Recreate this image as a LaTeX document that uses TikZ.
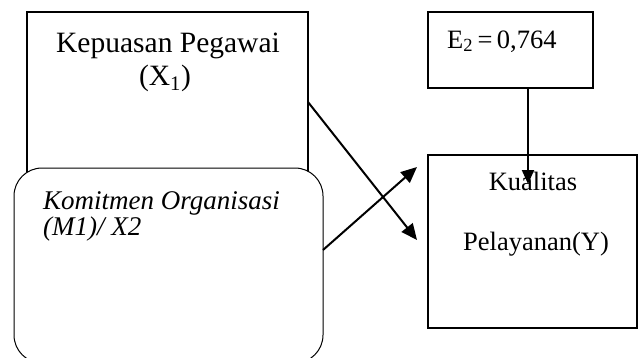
\documentclass[tikz,border=0pt]{standalone}
\usepackage{fontspec}
\setmainfont{Liberation Serif}
\usetikzlibrary{arrows.meta}
\tikzset{
  boxthick/.style={draw=black, line width=2pt, rectangle, inner sep=0pt},
  roundbox/.style={draw=black, line width=1pt, fill=white, rounded corners=28pt, inner sep=0pt},
  txt/.style={anchor=base, inner sep=0pt, font=\fontsize{26.5}{30}\selectfont},
  conn/.style={line width=2pt, -{Triangle[length=16pt,width=14pt]}}
}
\begin{document}
\begin{tikzpicture}[x=1pt,y=-1pt]
\useasboundingbox (0,0) rectangle (638,357);
\clip (0,0) rectangle (638,357);
% boxes
\node[boxthick, minimum width=281pt, minimum height=238pt] (x1) at (167.5,131) {};
\draw[roundbox] (14,168) rectangle (323,363);
\node[boxthick, minimum width=165pt, minimum height=76pt] (e2) at (510.5,50) {};
\node[boxthick, minimum width=209pt, minimum height=173pt] (y) at (532.5,241.5) {};
% texts
\node[txt, font=\fontsize{29.5}{34}\selectfont] (t1) at (168,52) {Kepuasan Pegawai};
\node[txt, font=\fontsize{29.5}{34}\selectfont] (t2) at (165,85) {(X\textsubscript{1})};
\node[txt, anchor=base west, font=\fontsize{27}{31}\itshape] (t3) at (43,209) {Komitmen Organisasi};
\node[txt, anchor=base west, font=\fontsize{27}{31}\itshape] (t4) at (43,235) {(M1)/ X2};
\node[txt, anchor=base west] (t5) at (447,48) {E\textsubscript{2}\,=\,0,764};
\node[txt] (t6) at (533,190) {Kualitas};
\node[txt] (t7) at (536,250) {Pelayanan(Y)};
% connectors
\coordinate (a1s) at (308,102);
\coordinate (a1e) at (417,240);
\coordinate (a2s) at (323,250);
\coordinate (a2e) at (417,167);
\coordinate (a3e) at (528,184);
\draw[conn] (a1s) -- (a1e);
\draw[conn] (a2s) -- (a2e);
\draw[conn, -{Triangle[length=14pt,width=12pt]}] (e2.south -| a3e) -- (a3e);
\end{tikzpicture}
\end{document}
